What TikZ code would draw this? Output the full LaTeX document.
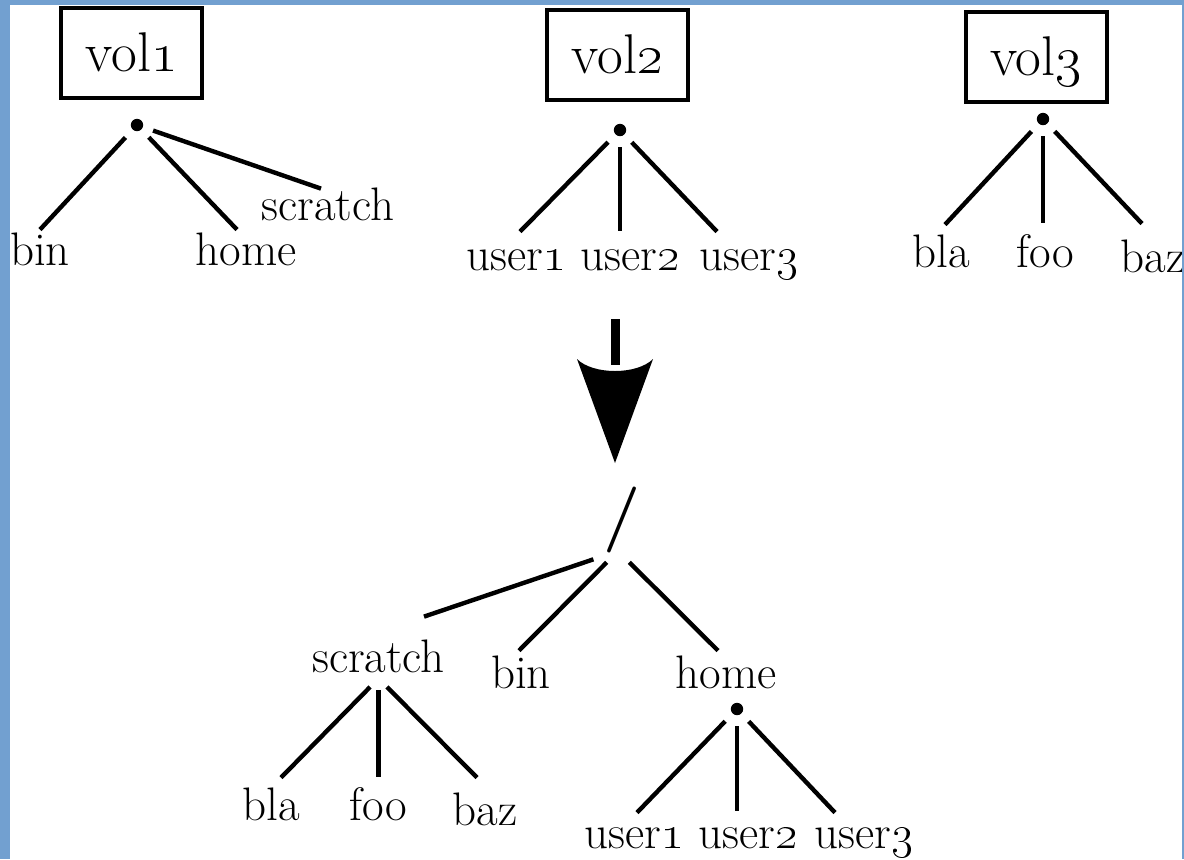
\RequirePackage{fix-cm}
\documentclass[tikz,border=0pt]{standalone}
\usetikzlibrary{calc}
\definecolor{frameblue}{RGB}{114,160,208}
\tikzset{
  lbl/.style={font=\fontsize{23.5}{28}\selectfont, inner sep=3pt, anchor=base, text height=15.5pt, text depth=0pt},
  volbox/.style={draw, line width=2pt, minimum width=70.5pt, minimum height=45pt, inner sep=0pt,
                 font=\fontsize{28}{33}\selectfont, text height=19pt, text depth=0pt},
  dotnode/.style={circle, fill=black, minimum size=6.2pt, inner sep=0pt, outer sep=5.4pt},
  junction/.style={circle, minimum size=0pt, inner sep=0pt, outer sep=8pt},
  branch/.style={line width=2.2pt},
}
\begin{document}
\begin{tikzpicture}[x=0.5pt, y=-0.5pt]
\useasboundingbox (0,0) rectangle (1184,859);
\fill[white] (0,0) rectangle (1184,859);

% ---------- tree of vol1 ----------
\node[volbox] (vol1) at (131.5,52.5) {vol\oldstylenums{1}};
\node[dotnode] (d1) at (137,125) {};
\node[lbl] (bin1) at (40,265) {bin};
\node[lbl] (home1) at (246,265) {home};
\node[lbl] (scr1) at (328,220) {scratch};
\draw[branch] (d1) -- ($(bin1.north)+(0,2)$);
\draw[branch] (d1) -- ($(home1.north)+(-9,2)$);
\draw[branch] (d1) -- ($(scr1.north)+(-7,6)$);

% ---------- tree of vol2 ----------
\node[volbox] (vol2) at (617.5,54.5) {vol\oldstylenums{2}};
\node[dotnode] (d2) at (620,130) {};
\node[lbl] (u1a) at (516,270) {user\oldstylenums{1}};
\node[lbl] (u2a) at (630,270) {user\oldstylenums{2}};
\node[lbl] (u3a) at (749,270) {user\oldstylenums{3}};
\draw[branch] (d2) -- ($(u1a.north)+(4,-1)$);
\draw[branch] (d2) -- ($(u2a.north)+(-10,-2)$);
\draw[branch] (d2) -- ($(u3a.north)+(-32,-1)$);

% ---------- tree of vol3 ----------
\node[volbox] (vol3) at (1036,56.5) {vol\oldstylenums{3}};
\node[dotnode] (d3) at (1043,119) {};
\node[lbl] (bla1) at (941,267) {bla};
\node[lbl] (foo1) at (1045,267) {foo};
\node[lbl] (baz1) at (1153,272) {baz};
\draw[branch] (d3) -- ($(bla1.north)+(4,-5)$);
\draw[branch] (d3) -- ($(foo1.north)+(-2,-7)$);
\draw[branch] (d3) -- ($(baz1.north)+(-11,-11)$);

% ---------- big arrow ----------
\coordinate (arrS) at (615,319);
\coordinate (arrT) at (615,463);
\draw[line width=4.5pt] (arrS) -- ($(arrT)+(0,-98)$);
\fill ($(arrT)+(-38,-104)$) .. controls ($(arrT)+(-22,-88)$) and ($(arrT)+(22,-88)$) .. ($(arrT)+(38,-104)$) -- (arrT) -- cycle;

% ---------- merged tree ----------
\node[font=\fontsize{33}{40}\selectfont\bfseries, inner sep=0pt] (root) at (622.5,520) {/};
\node[junction] (rj) at (618,551) {};
\node[lbl] (scr2) at (378.5,672) {scratch};
\node[lbl] (bin2) at (521,688) {bin};
\node[lbl] (home2) at (726,688) {home};
\draw[branch, shorten <=5pt] (rj) -- ($(scr2.north)+(45.5,-18)$);
\draw[branch] (rj) -- ($(bin2.north)+(-2,0)$);
\draw[branch] (rj) -- ($(home2.north)+(-8,0)$);

\node[lbl] (bla2) at (271,820) {bla};
\node[lbl] (foo2) at (378.5,820) {foo};
\node[lbl] (baz2) at (485,825) {baz};
\draw[branch, shorten <=6pt] (scr2.south) -- ($(bla2.north)+(10,-5)$);
\draw[branch, shorten <=6pt] (scr2.south) -- ($(foo2.north)+(0,-6)$);
\draw[branch, shorten <=6pt] (scr2.south) -- ($(baz2.north)+(-8,-10)$);

\node[dotnode] (d4) at (737,709) {};
\node[lbl] (u1b) at (634,848) {user\oldstylenums{1}};
\node[lbl] (u2b) at (748,848) {user\oldstylenums{2}};
\node[lbl] (u3b) at (864,848) {user\oldstylenums{3}};
\draw[branch] (d4) -- ($(u1b.north)+(3,2)$);
\draw[branch] (d4) -- ($(u2b.north)+(-11,0)$);
\draw[branch] (d4) -- ($(u3b.north)+(-29,2)$);

% ---------- frame ----------
\fill[frameblue] (0,0) rectangle (10,859);
\fill[frameblue] (0,0) rectangle (1184,5);
\fill[frameblue] (1182,0) rectangle (1184,859);
\end{tikzpicture}
\end{document}
